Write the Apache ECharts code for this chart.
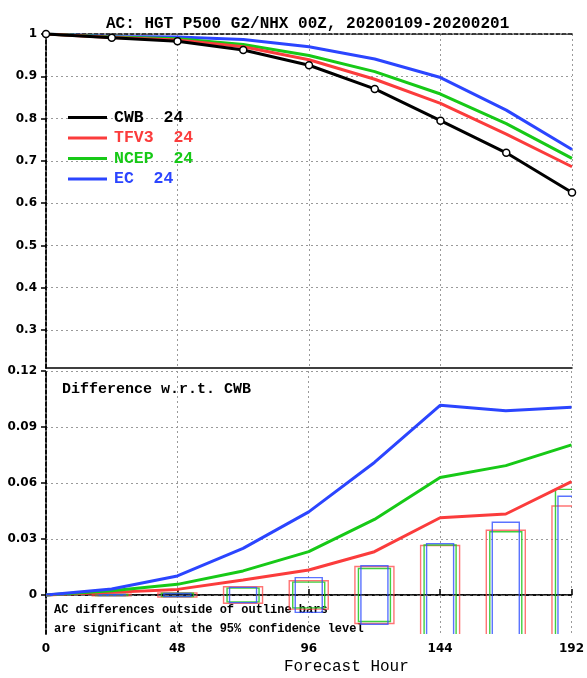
<!DOCTYPE html>
<html>
<head>
<meta charset="utf-8">
<script src="https://cdn.jsdelivr.net/npm/echarts@6/dist/echarts.min.js"></script>
<style>
  html, body { margin: 0; padding: 0; background: #fff; }
  #chart { width: 587px; height: 678px; }
</style>
</head>
<body>
<div id="chart"></div>
<script>
// forecast hours
var hours = [0, 24, 48, 72, 96, 120, 144, 168, 192];
var models = ['CWB', 'TFV3', 'NCEP', 'EC'];
var caseCounts = [24, 24, 24, 24];

// anomaly correlation, top panel
var acCWB  = [1.0, 0.991, 0.983, 0.962, 0.926, 0.870, 0.795, 0.719, 0.625];
var acTFV3 = [1.0, 0.992, 0.986, 0.970, 0.939, 0.893, 0.836, 0.763, 0.686];
var acNCEP = [1.0, 0.993, 0.989, 0.975, 0.949, 0.911, 0.858, 0.788, 0.706];
var acEC   = [1.0, 0.994, 0.993, 0.987, 0.970, 0.941, 0.897, 0.820, 0.727];

// difference w.r.t. CWB, bottom panel
var diffTFV3 = [0, 0.0014, 0.0030, 0.0080, 0.0134, 0.0232, 0.0414, 0.0434, 0.0607];
var diffNCEP = [0, 0.0023, 0.0057, 0.0129, 0.0232, 0.0405, 0.0629, 0.0693, 0.0804];
var diffEC   = [0, 0.0032, 0.0102, 0.0250, 0.0445, 0.0710, 0.1016, 0.0987, 0.1006];

// 95% significance half-heights (outline bars)
var sigTFV3 = [0, 0.0004, 0.0011, 0.0044, 0.0076, 0.0153, 0.0265, 0.0347, 0.0477];
var sigNCEP = [0, 0.0003, 0.0009, 0.0037, 0.0069, 0.0142, 0.0268, 0.0339, 0.0566];
var sigEC   = [0, 0.0003, 0.0008, 0.0041, 0.0093, 0.0157, 0.0275, 0.0390, 0.0529];

var topTicks = [0.3, 0.4, 0.5, 0.6, 0.7, 0.8, 0.9, 1];
var bottomTicks = [0, 0.03, 0.06, 0.09, 0.12];

var colors = { CWB: '#000000', TFV3: '#fb3c3c', NCEP: '#17c917', EC: '#2b45ff' };
var barColors = { TFV3: 'rgba(255,70,70,0.75)', NCEP: 'rgba(30,200,30,0.85)', EC: 'rgba(50,80,255,0.8)' };
var mono = '"Liberation Mono", "DejaVu Sans Mono", monospace';

function pairs(ys) {
  return hours.map(function (h, i) { return [h, ys[i]]; });
}

function barSeries(name, sig, halfW) {
  return {
    name: name,
    type: 'custom',
    xAxisIndex: 2,
    yAxisIndex: 2,
    clip: true,
    z: 1,
    silent: true,
    color: colors[name],
    data: pairs(sig).filter(function (d) { return d[1] > 0; }),
    renderItem: function (params, api) {
      var hi = api.coord([api.value(0), api.value(1)]);
      var lo = api.coord([api.value(0), -api.value(1)]);
      return {
        type: 'rect',
        shape: { x: hi[0] - halfW, y: hi[1], width: halfW * 2, height: lo[1] - hi[1] },
        style: { fill: null, stroke: barColors[name], lineWidth: 1.4 }
      };
    }
  };
}

function lineSeries(name, ys, axisIdx) {
  return {
    name: name, type: 'line', xAxisIndex: axisIdx, yAxisIndex: axisIdx, data: pairs(ys),
    color: colors[name], lineStyle: { width: 3, color: colors[name] }, showSymbol: false, z: 3
  };
}

var chart = echarts.init(document.getElementById('chart'));

var dotted = { show: true, lineStyle: { color: '#9a9a9a', type: [2, 3], width: 1 } };
var dashedAxis = { show: true, lineStyle: { color: '#000', type: [4, 2], width: 1.5 } };

function xAxisBase(gridIndex, position, extra) {
  var a = {
    type: 'value', gridIndex: gridIndex, position: position,
    min: 0, max: 192, interval: 48,
    axisLine: dashedAxis, axisTick: { show: false }, axisLabel: { show: false },
    splitLine: { show: false }
  };
  for (var k in extra) a[k] = extra[k];
  return a;
}

var zeroLine = {
  silent: true, symbol: 'none', label: { show: false },
  lineStyle: { color: '#6a6a6a', type: [4, 3], width: 1 },
  data: [{ yAxis: 0 }]
};

var diffRed = lineSeries('TFV3', diffTFV3, 2);
diffRed.markLine = zeroLine;

var cwbLine = lineSeries('CWB', acCWB, 0);
cwbLine.showSymbol = true;
cwbLine.symbol = 'circle';
cwbLine.symbolSize = 7;
cwbLine.itemStyle = { color: '#fff', borderColor: '#000', borderWidth: 1.5 };
cwbLine.z = 4;

chart.setOption({
  animation: false,
  backgroundColor: '#fff',
  title: {
    text: 'AC: HGT P500 G2/NHX 00Z, 20200109-20200201',
    left: 101, top: 11,
    textStyle: { fontFamily: mono, fontWeight: 'bold', fontSize: 16, color: '#000' }
  },
  legend: {
    orient: 'vertical',
    left: 68, top: 109,
    padding: 0,
    itemWidth: 39, itemHeight: 3, itemGap: 3.5,
    icon: 'rect',
    data: models.map(function (m) {
      return {
        name: m,
        itemStyle: { color: colors[m], borderWidth: 0 },
        textStyle: { color: colors[m] }
      };
    }),
    formatter: function (name) {
      return name + '  ' + caseCounts[models.indexOf(name)];
    },
    textStyle: { fontFamily: mono, fontWeight: 'bold', fontSize: 16.5, padding: [0, 0, 0, 2] }
  },
  grid: [
    { left: 46, top: 34, width: 526, height: 334 },
    { left: 46, top: 371, width: 526, height: 263 }
  ],
  xAxis: [
    xAxisBase(0, 'bottom', { axisLine: { show: true, lineStyle: { color: '#000', width: 1.5 } }, splitLine: dotted }),
    xAxisBase(0, 'top', {}),
    xAxisBase(1, 'bottom', {
      axisLine: { show: true, lineStyle: { color: '#000', width: 1.5 } },
      axisTick: { show: true, inside: true, length: 6, lineStyle: { color: '#000', width: 1.5 } },
      axisLabel: { show: true, margin: 9, fontSize: 12, color: '#000', fontFamily: '"DejaVu Sans", sans-serif', fontWeight: 'bold' },
      splitLine: dotted
    }),
    xAxisBase(1, 'top', {})
  ],
  yAxis: [
    {
      type: 'value', gridIndex: 0, position: 'left', min: 0.21, max: 1,
      axisLine: dashedAxis,
      axisTick: { show: true, length: 5, customValues: topTicks, lineStyle: { color: '#000', width: 1.5 } },
      axisLabel: { margin: 9, customValues: topTicks, fontSize: 12, color: '#000', fontFamily: '"DejaVu Sans", sans-serif', fontWeight: 'bold' },
      splitLine: dotted
    },
    {
      type: 'value', gridIndex: 0, position: 'right', min: 0.21, max: 1,
      axisLine: dashedAxis, axisTick: { show: false }, axisLabel: { show: false }, splitLine: { show: false }
    },
    {
      type: 'value', gridIndex: 1, position: 'left', min: -0.0209, max: 0.12,
      axisLine: dashedAxis,
      axisTick: { show: true, length: 5, customValues: bottomTicks, lineStyle: { color: '#000', width: 1.5 } },
      axisLabel: {
        margin: 9, customValues: bottomTicks, fontSize: 12, color: '#000', fontFamily: '"DejaVu Sans", sans-serif', fontWeight: 'bold',
        formatter: function (v) { return v === 0 ? '0' : v.toFixed(2); }
      },
      splitLine: dotted
    },
    {
      type: 'value', gridIndex: 1, position: 'right', min: -0.0209, max: 0.12,
      axisLine: dashedAxis, axisTick: { show: false }, axisLabel: { show: false }, splitLine: { show: false }
    }
  ],
  graphic: [
    {
      type: 'text', left: 62, top: 382,
      style: { text: 'Difference w.r.t. CWB', fill: '#000', font: 'bold 15px ' + mono }
    },
    {
      type: 'text', left: 54, top: 600,
      style: {
        text: 'AC differences outside of outline bars\nare significant at the 95% confidence level',
        fill: '#000', font: 'bold 12px ' + mono, lineHeight: 19
      }
    },
    {
      type: 'text', left: 284, top: 659,
      style: { text: 'Forecast Hour', fill: '#000', font: '16px ' + mono }
    }
  ],
  series: [
    barSeries('TFV3', sigTFV3, 19.5),
    barSeries('NCEP', sigNCEP, 16),
    barSeries('EC', sigEC, 13.5),
    lineSeries('EC', acEC, 0),
    lineSeries('NCEP', acNCEP, 0),
    lineSeries('TFV3', acTFV3, 0),
    cwbLine,
    diffRed,
    lineSeries('NCEP', diffNCEP, 2),
    lineSeries('EC', diffEC, 2)
  ]
});
</script>
</body>
</html>
